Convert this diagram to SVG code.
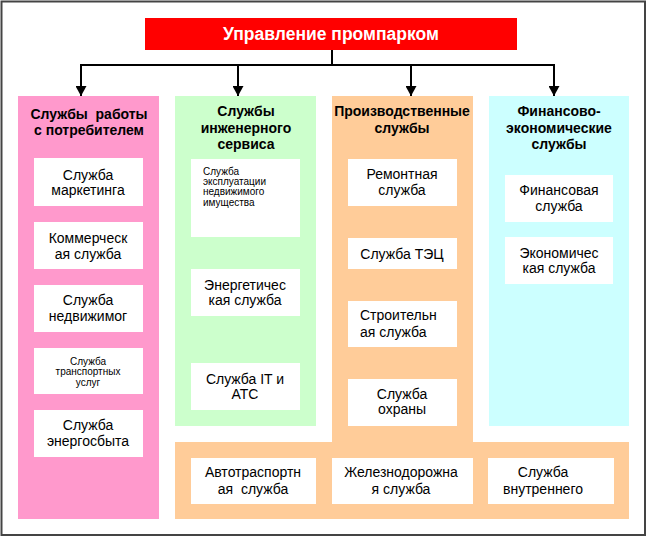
<svg xmlns="http://www.w3.org/2000/svg" width="650" height="538" viewBox="0 0 650 538">
<defs>
<style>
.t{font-family:"Liberation Sans",Arial,sans-serif;font-size:14px;fill:#000;text-anchor:middle;dominant-baseline:central}
.h{font-weight:bold}
.s{font-size:10px}
.xs{font-size:10px}
.l{text-anchor:start}
.box{fill:#fff}
.conn{stroke:#000;stroke-width:2;fill:none}
</style>
<marker id="arr" viewBox="0 0 10 11" refX="10" refY="5.5" markerWidth="10" markerHeight="11" markerUnits="userSpaceOnUse" orient="auto">
<path d="M0,0 L10,5.5 L0,11 Z" fill="#000"/>
</marker>
</defs>
<rect x="0" y="0" width="650" height="538" fill="#fff"/>
<rect x="1.5" y="1.5" width="643.5" height="533.5" fill="#fff" stroke="#444" stroke-width="2"/>

<g id="root">
<rect x="145" y="18" width="372" height="32" fill="#ff0000"/>
<text class="t h" x="331" y="34" style="font-size:17.5px;fill:#fff">Управление промпарком</text>
</g>

<g id="connectors">
<path class="conn" d="M332,50 V65"/>
<path class="conn" d="M81,65 H554"/>
<path class="conn" d="M81,64 V96" marker-end="url(#arr)"/>
<path class="conn" d="M238,64 V96" marker-end="url(#arr)"/>
<path class="conn" d="M411,64 V96" marker-end="url(#arr)"/>
<path class="conn" d="M554,64 V96" marker-end="url(#arr)"/>
</g>

<g id="col-consumer">
<rect x="18" y="96" width="141" height="423" fill="#ff99cc"/>
<text class="t h" x="89" y="114" xml:space="preserve">Службы  работы</text>
<text class="t h" x="89" y="130">с потребителем</text>
</g>
<g id="marketing">
<rect class="box" x="34" y="158" width="109" height="48"/>
<text class="t" x="88" y="175">Служба</text>
<text class="t" x="88" y="190">маркетинга</text>
</g>
<g id="commercial">
<rect class="box" x="34" y="222" width="109" height="47"/>
<text class="t" x="88" y="238">Коммерческ</text>
<text class="t" x="88" y="254">ая служба</text>
</g>
<g id="realty">
<rect class="box" x="34" y="285" width="109" height="47"/>
<text class="t" x="88" y="300">Служба</text>
<text class="t" x="88" y="316">недвижимог</text>
</g>
<g id="transport">
<rect class="box" x="34" y="348" width="109" height="46"/>
<text class="t xs" x="88" y="361">Служба</text>
<text class="t xs" x="88" y="371.5">транспортных</text>
<text class="t xs" x="88" y="382">услуг</text>
</g>
<g id="energysales">
<rect class="box" x="34" y="410" width="109" height="47"/>
<text class="t" x="88" y="425">Служба</text>
<text class="t" x="88" y="441">энергосбыта</text>
</g>

<g id="col-engineering">
<rect x="175" y="96" width="141" height="330" fill="#ccffcc"/>
<text class="t h" x="246" y="111">Службы</text>
<text class="t h" x="246" y="127.5">инженерного</text>
<text class="t h" x="246" y="144">сервиса</text>
</g>
<g id="property">
<rect class="box" x="191" y="159" width="109" height="78"/>
<text class="t s l" x="203" y="171">Служба</text>
<text class="t s l" x="203" y="181.3">эксплуатации</text>
<text class="t s l" x="203" y="191.6">недвижимого</text>
<text class="t s l" x="203" y="202">имущества</text>
</g>
<g id="energy">
<rect class="box" x="191" y="269" width="109" height="47"/>
<text class="t" x="245" y="285">Энергетичес</text>
<text class="t" x="245" y="300">кая служба</text>
</g>
<g id="it">
<rect class="box" x="191" y="363" width="109" height="47"/>
<text class="t" x="245" y="379">Служба IT и</text>
<text class="t" x="245" y="394">АТС</text>
</g>

<g id="col-production">
<path d="M332,96 H473 V442 H629 V519 H175 V442 H332 Z" fill="#ffcc99"/>
<text class="t h" x="402" y="111">Производственные</text>
<text class="t h" x="402" y="127.5">службы</text>
</g>
<g id="repair">
<rect class="box" x="348" y="159" width="109" height="47"/>
<text class="t" x="402" y="174">Ремонтная</text>
<text class="t" x="402" y="190">служба</text>
</g>
<g id="tec">
<rect class="box" x="348" y="238" width="109" height="31"/>
<text class="t" x="402" y="254">Служба ТЭЦ</text>
</g>
<g id="construction">
<rect class="box" x="348" y="301" width="109" height="46"/>
<text class="t l" x="360" y="315">Строительн</text>
<text class="t l" x="360" y="331.5">ая служба</text>
</g>
<g id="security">
<rect class="box" x="348" y="379" width="109" height="47"/>
<text class="t" x="402" y="394">Служба</text>
<text class="t" x="402" y="409">охраны</text>
</g>
<g id="autotransport">
<rect class="box" x="191" y="458" width="125" height="46"/>
<text class="t" x="253" y="472">Автотраспортн</text>
<text class="t" x="253" y="489" xml:space="preserve">ая  служба</text>
</g>
<g id="railway">
<rect class="box" x="332" y="458" width="141" height="46"/>
<text class="t" x="401" y="472">Железнодорожна</text>
<text class="t" x="401" y="489">я служба</text>
</g>
<g id="internal">
<rect class="box" x="488" y="458" width="126" height="46"/>
<text class="t" x="543" y="472">Служба</text>
<text class="t" x="543" y="489">внутреннего</text>
</g>

<g id="col-finance">
<rect x="489" y="96" width="140" height="330" fill="#ccffff"/>
<text class="t h" x="559" y="111">Финансово-</text>
<text class="t h" x="559" y="127.5">экономические</text>
<text class="t h" x="559" y="144">службы</text>
</g>
<g id="financial">
<rect class="box" x="505" y="175" width="108" height="47"/>
<text class="t" x="559" y="190">Финансовая</text>
<text class="t" x="559" y="206">служба</text>
</g>
<g id="economic">
<rect class="box" x="505" y="237" width="108" height="47"/>
<text class="t" x="559" y="253">Экономичес</text>
<text class="t" x="559" y="268">кая служба</text>
</g>
</svg>
